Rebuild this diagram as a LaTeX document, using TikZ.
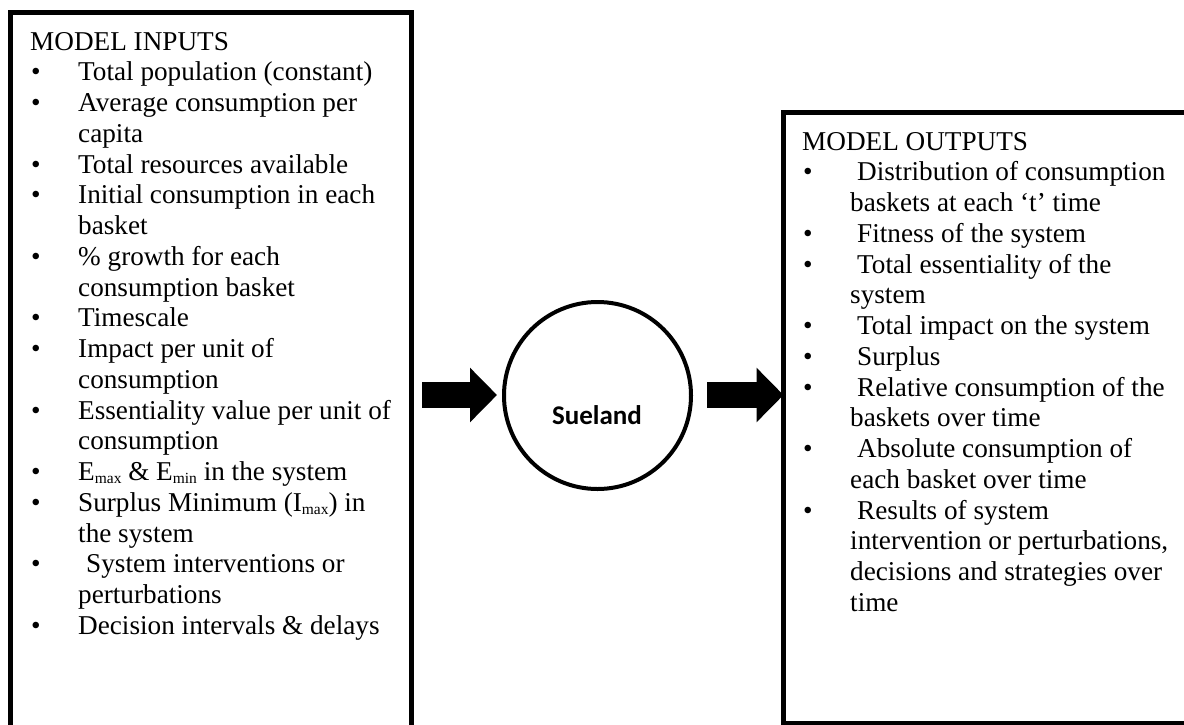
\documentclass[tikz,border=0pt]{standalone}
\usepackage{fontspec}
\setmainfont{Liberation Serif}
\newfontfamily\suefont{Carlito}
\usetikzlibrary{arrows.meta}
\newcommand{\sbs}[1]{\raisebox{-3pt}{\fontsize{15.5}{15.5}\selectfont #1}}
\begin{document}
\begin{tikzpicture}[x=1pt,y=-1pt,
  txt/.style={anchor=base west, inner sep=0pt, font=\fontsize{27.2}{30}\selectfont},
  bul/.style={anchor=base west, inner sep=0pt, font=\fontsize{27.2}{30}\selectfont},
  frame/.style={draw=black, line width=5pt, inner sep=0pt, anchor=north west},
  bigarrow/.style={line width=26pt, -{Triangle[length=27pt,width=53pt]}}]
\useasboundingbox (0,0) rectangle (1184,724);
\fill[white] (0,0) rectangle (1184,724);
\begin{scope}
\clip (0,0) rectangle (1184,724);
\node[frame, minimum width=401.5pt, minimum height=716pt] (inbox) at (7.5,9.5) {};
\node[frame, minimum width=409.5pt, minimum height=611.5pt] (outbox) at (780.5,109.5) {};
\end{scope}
% centre circle
\node[circle, draw=black, line width=4pt, minimum size=187pt, inner sep=0pt] (sys) at (597.5,395.5) {};
\node[inner sep=0pt, font=\suefont\bfseries\fontsize{27}{30}\selectfont] (syslab) at (597,415) {Sueland};
% arrows
\coordinate (a1s) at (422,395);
\coordinate (a2s) at (707,395);
\draw[bigarrow, shorten >=5pt] (a1s) -- (a1s -| sys.west);
\draw[bigarrow, shorten >=-3pt] (a2s) -- (a2s -| outbox.west);
% left text
\node[txt] (l1) at (30,50) {MODEL INPUTS};
\node[bul] (b2) at (31,80.75) {•};
\node[txt] (l2) at (78,80.75) {Total population (constant)};
\node[bul] (b3) at (31,111.5) {•};
\node[txt] (l3) at (78,111.5) {Average consumption per};
\node[txt] (l4) at (78,142.25) {capita};
\node[bul] (b5) at (31,173) {•};
\node[txt] (l5) at (78,173) {Total resources available};
\node[bul] (b6) at (31,203.75) {•};
\node[txt] (l6) at (78,203.75) {Initial consumption in each};
\node[txt] (l7) at (78,234.5) {basket};
\node[bul] (b8) at (31,265.25) {•};
\node[txt] (l8) at (78,265.25) {\% growth for each};
\node[txt] (l9) at (78,296) {consumption basket};
\node[bul] (b10) at (31,326.75) {•};
\node[txt] (l10) at (78,326.75) {Timescale};
\node[bul] (b11) at (31,357.5) {•};
\node[txt] (l11) at (78,357.5) {Impact per unit of};
\node[txt] (l12) at (78,388.25) {consumption};
\node[bul] (b13) at (31,419) {•};
\node[txt] (l13) at (78,419) {Essentiality value per unit of};
\node[txt] (l14) at (78,449.75) {consumption};
\node[bul] (b15) at (31,480.5) {•};
\node[txt] (l15) at (78,480.5) {E\sbs{max} \& E\sbs{min} in the system};
\node[bul] (b16) at (31,511.25) {•};
\node[txt] (l16) at (78,511.25) {Surplus Minimum (I\sbs{max}) in};
\node[txt] (l17) at (78,542) {the system};
\node[bul] (b18) at (31,572.75) {•};
\node[txt] (l18) at (86,572.75) {System interventions or};
\node[txt] (l19) at (78,603.5) {perturbations};
\node[bul] (b20) at (31,634.25) {•};
\node[txt] (l20) at (78,634.25) {Decision intervals \& delays};
% right text
\node[txt] (r1) at (802,150) {MODEL OUTPUTS};
\node[bul] (c2) at (803,180.75) {•};
\node[txt] (r2) at (857,180.75) {Distribution of consumption};
\node[txt] (r3) at (850,211.5) {baskets at each ‘t’ time};
\node[bul] (c4) at (803,242.25) {•};
\node[txt] (r4) at (857,242.25) {Fitness of the system};
\node[bul] (c5) at (803,273) {•};
\node[txt] (r5) at (857,273) {Total essentiality of the};
\node[txt] (r6) at (850,303.75) {system};
\node[bul] (c7) at (803,334.5) {•};
\node[txt] (r7) at (857,334.5) {Total impact on the system};
\node[bul] (c8) at (803,365.25) {•};
\node[txt] (r8) at (857,365.25) {Surplus};
\node[bul] (c9) at (803,396) {•};
\node[txt] (r9) at (857,396) {Relative consumption of the};
\node[txt] (r10) at (850,426.75) {baskets over time};
\node[bul] (c11) at (803,457.5) {•};
\node[txt] (r11) at (857,457.5) {Absolute consumption of};
\node[txt] (r12) at (850,488.25) {each basket over time};
\node[bul] (c13) at (803,519) {•};
\node[txt] (r13) at (857,519) {Results of system};
\node[txt] (r14) at (850,549.75) {intervention or perturbations,};
\node[txt] (r15) at (850,580.5) {decisions and strategies over};
\node[txt] (r16) at (850,611.25) {time};
\end{tikzpicture}
\end{document}
